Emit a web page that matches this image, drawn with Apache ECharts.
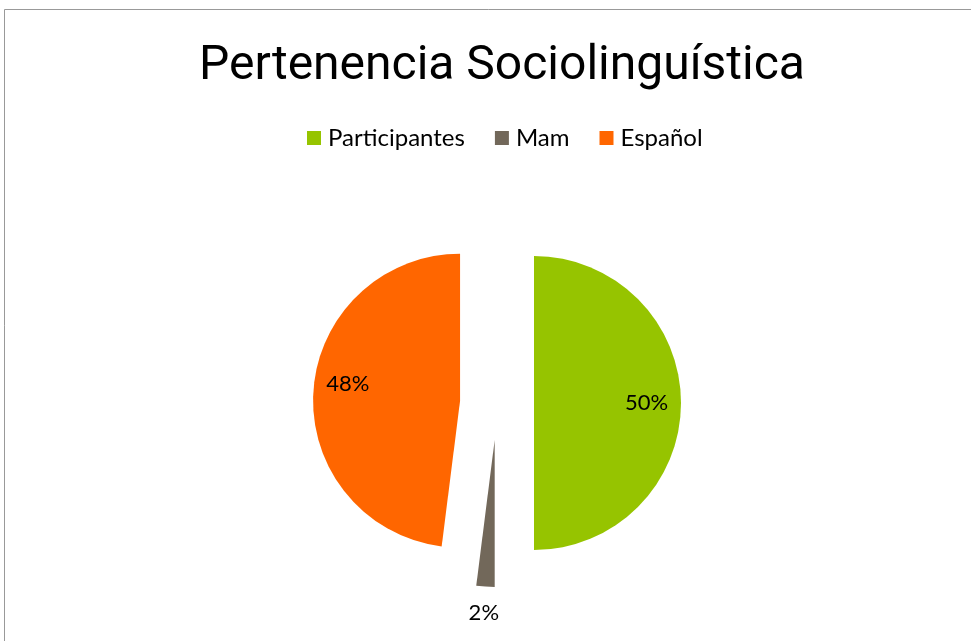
<!DOCTYPE html>
<html><head><meta charset="utf-8">
<script src="https://cdn.jsdelivr.net/npm/echarts@6/dist/echarts.min.js"></script>
<style>html,body{margin:0;padding:0;background:#fff}#c{width:971px;height:641px}</style>
</head><body><div id="c"></div>
<script>
const categories = ['Participantes', 'Mam', 'Español'];
const values = [50, 2, 48];
const labels = ['50%', '2%', '48%'];
const colors = ['#96C400', '#72685A', '#FF6600'];

const chart = echarts.init(document.getElementById('c'));
const center = [497, 403];
const R = 147;
const off = 37;

const baseData = categories.map((n, i) => ({
  name: n, value: values[i], selected: true,
  itemStyle: { color: colors[i] }
}));
// inner label ring (labels for the big slices)
const innerLabelData = categories.map((n, i) => ({
  name: n, value: values[i], selected: true,
  itemStyle: { color: 'rgba(0,0,0,0)' },
  label: { show: i !== 1 }
}));
// outer ring (label for the small slice, drawn outside the pie)
const outerLabelData = categories.map((n, i) => ({
  name: n, value: values[i], selected: true,
  itemStyle: { color: 'rgba(0,0,0,0)' },
  label: { show: i === 1 }
}));

const labelFont = { fontFamily: 'Lato', fontSize: 22, color: '#000' };

chart.setOption({
  animation: false,
  title: {
    text: 'Pertenencia Sociolinguística',
    left: 497, top: 38, textAlign: 'center',
    textStyle: { fontFamily: 'Roboto', fontSize: 48, fontWeight: 'normal', color: '#000' }
  },
  legend: {
    data: categories,
    left: 302, top: 121,
    icon: 'rect', itemWidth: 14, itemHeight: 14, itemGap: 30,
    selectedMode: false,
    textStyle: { fontFamily: 'Lato', fontSize: 24, color: '#000', padding: [0, 0, 0, 2] }
  },
  graphic: [{
    type: 'rect', shape: { x: 4.5, y: 9.5, width: 1000, height: 1000 },
    style: { fill: 'none', stroke: '#999', lineWidth: 1 }, silent: true
  }],
  series: [{
    type: 'pie', center: center, radius: [0, R],
    startAngle: 90, clockwise: true,
    selectedMode: 'multiple', selectedOffset: off,
    label: { show: false }, labelLine: { show: false },
    emphasis: { disabled: true },
    data: baseData
  }, {
    type: 'pie', center: center, radius: [72, R],
    startAngle: 90, clockwise: true,
    selectedMode: 'multiple', selectedOffset: off,
    silent: true,
    label: Object.assign({
      show: true, position: 'inside',
      formatter: p => p.dataIndex === 2 ? labels[p.dataIndex] + '\n ' : labels[p.dataIndex],
      lineHeight: 20
    }, labelFont),
    labelLine: { show: false },
    emphasis: { disabled: true },
    data: innerLabelData
  }, {
    type: 'pie', center: center, radius: [R, R + 46],
    startAngle: 90, clockwise: true,
    selectedMode: 'multiple', selectedOffset: off,
    silent: true,
    label: Object.assign({
      show: true, position: 'inside',
      formatter: p => labels[p.dataIndex]
    }, labelFont),
    labelLine: { show: false },
    emphasis: { disabled: true },
    data: outerLabelData
  }]
});
</script></body></html>
